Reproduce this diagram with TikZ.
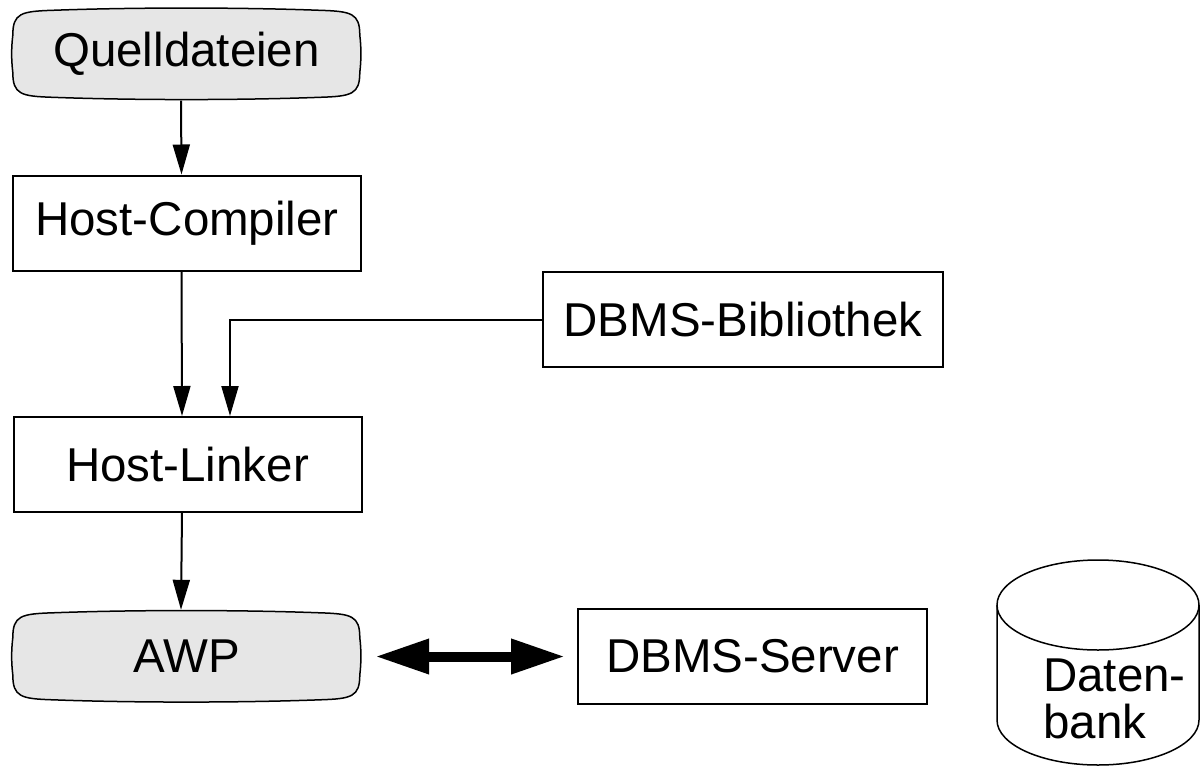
\documentclass[tikz,border=0pt]{standalone}
\usepackage{fontspec}
\setmainfont{Liberation Sans}
\usetikzlibrary{arrows.meta,backgrounds,calc}

\definecolor{softgray}{RGB}{230,230,230}

% soft rounded frame with slightly bulging sides, drawn behind node #1
% (#2 = width, #3 = height)
\newcommand{\softframe}[3]{%
  \begin{scope}[on background layer, shift={(#1.north west)}]
    \path[draw=black, line width=1.5pt, fill=softgray]
      (0,28)
      .. controls (0,6) and (8,4) .. (40,3)
      .. controls (120,0) and (#2-120,0) .. (#2-40,3)
      .. controls (#2-8,4) and (#2,6) .. (#2,28)
      .. controls (#2+1.5,40) and (#2+1.5,#3-40) .. (#2,#3-28)
      .. controls (#2,#3-6) and (#2-8,#3-4) .. (#2-40,#3-3)
      .. controls (#2-120,#3) and (120,#3) .. (40,#3-3)
      .. controls (8,#3-4) and (0,#3-6) .. (0,#3-28)
      .. controls (-1.5,#3-40) and (-1.5,40) .. cycle;
  \end{scope}}

\tikzset{
  every node/.style={font=\fontsize{47.5}{47}\selectfont, inner sep=0pt},
  stepbox/.style={draw=black, line width=2pt, minimum width=#1, minimum height=95pt},
  stepbox/.default=348pt,
  softnode/.style={minimum width=347pt, minimum height=93pt},
  flow/.style={line width=2pt, -{Triangle[length=30pt,width=17pt]}},
  bothways/.style={line width=10pt, {Triangle[length=54pt,width=33pt]}-{Triangle[length=54pt,width=33pt]}},
}

\begin{document}
\begin{tikzpicture}[x=1pt, y=-1pt]
  \useasboundingbox (0,0) rectangle (1202,766);

  % process chain
  \node[softnode] (q) at (186.5,54) {Quelldateien};
  \softframe{q}{347}{93}
  \node[stepbox] (hc) at (187,223) {Host-Compiler};
  \node[stepbox] (hl) at (187.5,464.5) {Host-Linker};
  \node[stepbox=400pt] (lib) at (743,319.5) {DBMS-Bibliothek};
  \node[softnode] (awp) at (186.5,656.5) {AWP};
  \softframe{awp}{347}{93}
  \node[stepbox=349pt] (srv) at (752.5,656.5) {DBMS-Server};

  % database cylinder
  \path[draw=black, line width=1.5pt, fill=white]
    (997,605) -- (997,720) arc[start angle=180, end angle=360, x radius=101, y radius=-45]
    -- (1199,605);
  \draw[line width=1.5pt] (1098,605) ellipse[x radius=101, y radius=45];
  \node[align=left, anchor=west] (db) at (1043,699) {Daten-\\bank};

  % connectors
  \draw[flow] ([xshift=-5.5pt]q.south) -- ([xshift=-5.5pt]hc.north);
  \draw[flow] ([xshift=-5.5pt]hc.south) -- ([xshift=-5.5pt]hl.north);
  \coordinate (bend) at (230,320);
  \draw[flow] (lib.west |- bend) -- (bend) -- (bend |- hl.north);
  \draw[flow] ([xshift=-5.5pt]hl.south) -- ([xshift=-5.5pt]awp.north);
  \draw[bothways, shorten <=15pt, shorten >=12pt] (awp.east) -- (srv.west);
\end{tikzpicture}
\end{document}
